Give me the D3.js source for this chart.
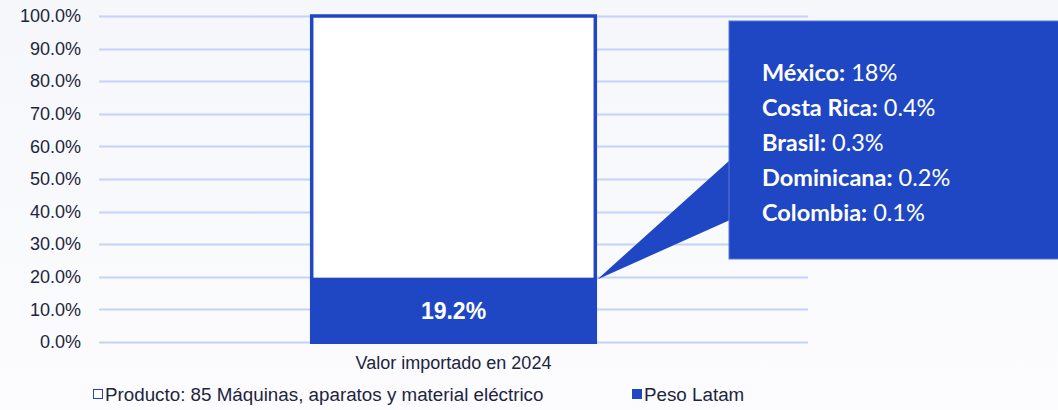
<!DOCTYPE html>
<html>
<head>
<meta charset="utf-8">
<script src="https://cdn.jsdelivr.net/npm/d3@7"></script>
<style>
  body { margin: 0; background: #fafbfd; }
  svg { display: block; }
  .yaxis text { font-family: "Liberation Sans", Arial, sans-serif; font-size: 18px; fill: #1c2540; }
  .xaxis text { font-family: "Liberation Sans", Arial, sans-serif; font-size: 18px; fill: #1c2540; }
  .legend text { font-family: "Liberation Sans", Arial, sans-serif; font-size: 18.8px; fill: #1c2540; }
  .callout text { font-family: "Lato", "Open Sans", sans-serif; font-size: 23.5px; fill: #ffffff; }
</style>
</head>
<body>
<div id="chart"></div>
<script>
var categories = ["Valor importado en 2024"];
var productValues = [100];   // total producto
var latamValues = [19.2];    // peso Latam
var yTicks = [0, 10, 20, 30, 40, 50, 60, 70, 80, 90, 100];
var seriesNames = ["Producto: 85 Máquinas, aparatos y material eléctrico", "Peso Latam"];
var countries = ["México", "Costa Rica", "Brasil", "Dominicana", "Colombia"];
var countryShares = ["18%", "0.4%", "0.3%", "0.2%", "0.1%"];

var width = 1058;
var height = 410;
var blue = "#1f47c4";

var svg = d3.select("#chart").append("svg")
    .attr("width", width)
    .attr("height", height);

// fondo con degradado suave
var defs = svg.append("defs");
var grad = defs.append("linearGradient")
    .attr("id", "bg")
    .attr("x1", 0).attr("y1", 0).attr("x2", 0).attr("y2", 1);
grad.append("stop").attr("offset", "0%").attr("stop-color", "#f5f7fa");
grad.append("stop").attr("offset", "100%").attr("stop-color", "#fcfcfe");
svg.append("rect")
    .attr("width", width)
    .attr("height", height)
    .attr("fill", "url(#bg)");

var yScale = d3.scaleLinear()
    .domain([0, 100])
    .range([342, 16]);

var xScale = d3.scaleBand()
    .domain(categories)
    .range([99, 808])
    .paddingInner(0.6)
    .paddingOuter(0.3);

// lineas de la grilla
svg.append("g")
    .selectAll("line")
    .data(yTicks)
    .enter()
    .append("line")
    .attr("x1", 99)
    .attr("x2", 808)
    .attr("y1", function(d) { return Math.round(yScale(d)) + 0.5; })
    .attr("y2", function(d) { return Math.round(yScale(d)) + 0.5; })
    .attr("stroke", "#c6d2f8")
    .attr("stroke-width", 1.8);

// eje y
var yAxis = d3.axisLeft(yScale)
    .tickValues(yTicks)
    .tickSize(0)
    .tickPadding(18)
    .tickFormat(function(d) { return d.toFixed(1) + "%"; });

svg.append("g")
    .attr("class", "yaxis")
    .attr("transform", "translate(99,0)")
    .call(yAxis)
    .call(function(g) { g.select(".domain").remove(); });

// eje x
var xAxis = d3.axisBottom(xScale)
    .tickSize(0)
    .tickPadding(14);

svg.append("g")
    .attr("class", "xaxis")
    .attr("transform", "translate(0,342)")
    .call(xAxis)
    .call(function(g) { g.select(".domain").remove(); });

// barra del producto (contorno)
svg.selectAll(".prod")
    .data(categories)
    .enter()
    .append("rect")
    .attr("class", "prod")
    .attr("x", function(d) { return xScale(d); })
    .attr("width", xScale.bandwidth())
    .attr("y", function(d, i) { return yScale(productValues[i]); })
    .attr("height", function(d, i) { return yScale(latamValues[i]) - yScale(productValues[i]); })
    .attr("fill", "#ffffff")
    .attr("stroke", blue)
    .attr("stroke-width", 3.5);

// barra peso Latam
svg.selectAll(".latam")
    .data(categories)
    .enter()
    .append("rect")
    .attr("class", "latam")
    .attr("x", function(d) { return xScale(d) - 1.75; })
    .attr("width", xScale.bandwidth() + 3.5)
    .attr("y", function(d, i) { return yScale(latamValues[i]); })
    .attr("height", function(d, i) { return yScale(0) - yScale(latamValues[i]) + 2; })
    .attr("fill", blue);

svg.selectAll(".latamLabel")
    .data(categories)
    .enter()
    .append("text")
    .attr("x", function(d) { return xScale(d) + xScale.bandwidth() / 2; })
    .attr("y", function(d, i) { return (yScale(0) + yScale(latamValues[i])) / 2 + 8; })
    .attr("text-anchor", "middle")
    .attr("font-family", "Liberation Sans, Arial, sans-serif")
    .attr("font-weight", "bold")
    .attr("font-size", 23)
    .attr("fill", "#ffffff")
    .text(function(d, i) { return latamValues[i].toFixed(1) + "%"; });

// globo con el detalle por pais
var tipX = xScale(categories[0]) + xScale.bandwidth() + 2;
var tipY = yScale(latamValues[0]);
var box = { x: 729, y: 21, w: 340, h: 238 };

var callout = svg.append("g").attr("class", "callout");
callout.append("path")
    .attr("d", "M" + tipX + "," + tipY + "L" + (box.x + 1) + "," + 160 + "L" + (box.x + 1) + "," + 220 + "Z")
    .attr("fill", blue);
callout.append("rect")
    .attr("x", box.x)
    .attr("y", box.y)
    .attr("width", box.w)
    .attr("height", box.h)
    .attr("fill", blue)
    .attr("stroke", "#5a78d6")
    .attr("stroke-width", 1);

var rows = callout.selectAll(".row")
    .data(countries)
    .enter()
    .append("text")
    .attr("x", 762)
    .attr("y", function(d, i) { return 81 + i * 35; });
rows.append("tspan")
    .attr("font-weight", "bold")
    .text(function(d) { return d + ":"; });
rows.append("tspan")
    .text(function(d, i) { return " " + countryShares[i]; });

// leyenda
var legend = svg.append("g").attr("class", "legend");
var legendX = [93, 632];
legend.selectAll("rect")
    .data(seriesNames)
    .enter()
    .append("rect")
    .attr("x", function(d, i) { return legendX[i] + 0.5; })
    .attr("y", 389.5)
    .attr("width", 9)
    .attr("height", 9)
    .attr("fill", function(d, i) { return i === 0 ? "#ffffff" : blue; })
    .attr("stroke", blue)
    .attr("stroke-width", 1);
legend.selectAll("text")
    .data(seriesNames)
    .enter()
    .append("text")
    .attr("x", function(d, i) { return legendX[i] + 12; })
    .attr("y", 401)
    .text(function(d) { return d; });
</script>
</body>
</html>
